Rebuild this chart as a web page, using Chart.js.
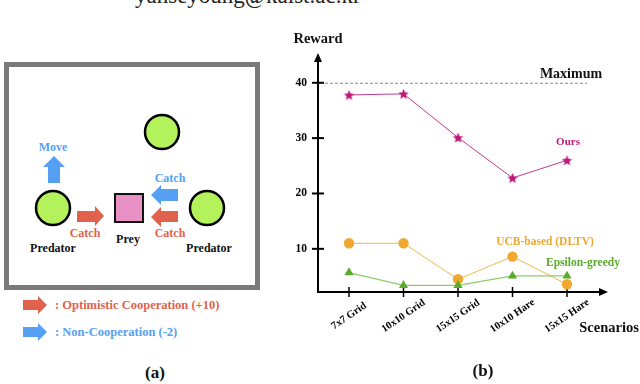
<!DOCTYPE html>
<html><head><meta charset="utf-8">
<script src="https://cdn.jsdelivr.net/npm/chart.js@4/dist/chart.umd.min.js"></script>
<style>
html,body{margin:0;padding:0;background:#fff;width:640px;height:384px;overflow:hidden}
#wrap{position:relative;width:640px;height:384px}
svg,canvas{position:absolute;left:0;top:0}
</style></head><body>
<div id="wrap">
<svg width="640" height="384" xmlns="http://www.w3.org/2000/svg" font-family="'Liberation Serif', 'DejaVu Serif', serif">
  <text x="135" y="3" font-size="23" fill="#222">yanseyoung@kaist.ac.kr</text>
  <rect x="6.5" y="64.5" width="251" height="223" fill="#fff" stroke="#7a7a7a" stroke-width="5"/>
  <circle cx="162" cy="132" r="17" fill="#b4f25c" stroke="#000" stroke-width="2.5"/>
  <circle cx="53" cy="208" r="17" fill="#b4f25c" stroke="#000" stroke-width="2.5"/>
  <circle cx="207" cy="208" r="17" fill="#b4f25c" stroke="#000" stroke-width="2.5"/>
  <rect x="115" y="194" width="28" height="28" fill="#e891c4" stroke="#111" stroke-width="2"/>
  <!-- Move arrow (up, blue) -->
  <polygon points="48,183 48,167 43,167 54,156 65,167 60,167 60,183" fill="#56a0f4"/>
  <!-- red right arrow -->
  <polygon points="77,211 95,211 95,206 104,216 95,226 95,222 77,222" fill="#e0624c"/>
  <!-- blue left arrow -->
  <polygon points="178,189 161,189 161,185 151,195 161,205 161,201 178,201" fill="#56a0f4"/>
  <!-- red left arrow -->
  <polygon points="178,211 161,211 161,207 151,217 161,227 161,222 178,222" fill="#e0624c"/>
  <g font-weight="bold" font-size="12" text-anchor="middle" dominant-baseline="central">
    <text x="53" y="147" fill="#56a0f4">Move</text>
    <text x="85" y="233" fill="#e0624c">Catch</text>
    <text x="170" y="178" fill="#56a0f4">Catch</text>
    <text x="170" y="233" fill="#e0624c">Catch</text>
    <text x="53" y="248" fill="#111">Predator</text>
    <text x="209" y="248" fill="#111">Predator</text>
    <text x="128" y="239" fill="#111">Prey</text>
  </g>
  <polygon points="23,300 38,300 38,296 47,305 38,314 38,310 23,310" fill="#e0624c"/>
  <polygon points="23,327 38,327 38,323 47,332 38,341 38,337 23,337" fill="#56a0f4"/>
  <g font-weight="bold" font-size="12.5" dominant-baseline="central">
    <text x="55" y="305" fill="#e0624c">: Optimistic Cooperation (+10)</text>
    <text x="55" y="332" fill="#56a0f4">: Non-Cooperation (-2)</text>
  </g>
  <text x="155" y="372" font-size="17" font-weight="bold" text-anchor="middle" dominant-baseline="central" fill="#111">(a)</text>
</svg>
<canvas id="c" width="640" height="384"></canvas>
</div>
<script>
// ---- data ----
const categories = ['7x7 Grid', '10x10 Grid', '15x15 Grid', '10x10 Hare', '15x15 Hare'];
const oursValues = [37.8, 38.0, 30.1, 22.8, 26.0];
const ucbValues = [11.0, 11.0, 4.5, 8.6, 3.6];
const epsilonValues = [5.7, 3.4, 3.4, 5.1, 5.1];
const yTickValues = [10, 20, 30, 40];
const maximumReward = 40;

const SERIF = "'Liberation Serif', 'DejaVu Serif', serif";
const C_OURS = '#c0187a', C_UCB = '#f0a830', C_EPS = '#5aab2a';

function starImg(color, r) {
  const s = Math.ceil(r * 2 + 2);
  const c = document.createElement('canvas');
  c.width = c.height = s;
  const g = c.getContext('2d');
  g.beginPath();
  for (let i = 0; i < 10; i++) {
    const a = -Math.PI / 2 + i * Math.PI / 5;
    const rr = i % 2 ? r * 0.45 : r;
    g.lineTo(s / 2 + rr * Math.cos(a), s / 2 + 0.6 + rr * Math.sin(a));
  }
  g.closePath();
  g.fillStyle = color;
  g.fill();
  return c;
}

const toPts = arr => arr.map((v, i) => ({ x: i, y: v }));

const decor = {
  id: 'decor',
  beforeDatasetsDraw(chart) {
    const { ctx, chartArea: a, scales: { x, y } } = chart;
    ctx.save();
    // maximum dashed line
    const ym = y.getPixelForValue(maximumReward);
    ctx.strokeStyle = '#888';
    ctx.lineWidth = 1;
    ctx.setLineDash([3, 2]);
    ctx.beginPath();
    ctx.moveTo(a.left + 7, ym + 0.5);
    ctx.lineTo(a.right - 20, ym + 0.5);
    ctx.stroke();
    ctx.setLineDash([]);
    // axes
    ctx.strokeStyle = '#000';
    ctx.fillStyle = '#000';
    ctx.lineWidth = 2;
    ctx.beginPath();
    ctx.moveTo(a.left, a.bottom);
    ctx.lineTo(a.left, a.top + 5);
    ctx.moveTo(a.left - 1, a.bottom);
    ctx.lineTo(a.right - 6, a.bottom);
    ctx.stroke();
    // arrowheads
    ctx.beginPath();
    ctx.moveTo(a.left, a.top - 1);
    ctx.lineTo(a.left - 4, a.top + 8);
    ctx.lineTo(a.left + 4, a.top + 8);
    ctx.closePath();
    ctx.fill();
    ctx.beginPath();
    ctx.moveTo(a.right + 1, a.bottom);
    ctx.lineTo(a.right - 8, a.bottom - 4);
    ctx.lineTo(a.right - 8, a.bottom + 4);
    ctx.closePath();
    ctx.fill();
    // y ticks
    ctx.font = 'bold 11.5px ' + SERIF;
    ctx.textAlign = 'right';
    ctx.textBaseline = 'middle';
    yTickValues.forEach(v => {
      const py = y.getPixelForValue(v);
      ctx.beginPath();
      ctx.moveTo(a.left - 6, py);
      ctx.lineTo(a.left + 6, py);
      ctx.stroke();
      ctx.fillText(String(v), a.left - 11, py);
    });
    // x ticks
    ctx.lineWidth = 1.5;
    ctx.font = 'bold 10.5px ' + SERIF;
    ctx.textAlign = 'center';
    categories.forEach((lab, i) => {
      const px = x.getPixelForValue(i);
      ctx.beginPath();
      ctx.moveTo(px, a.bottom - 5);
      ctx.lineTo(px, a.bottom + 5);
      ctx.stroke();
      ctx.save();
      ctx.translate(px, a.bottom + 24);
      ctx.rotate(-34.5 * Math.PI / 180);
      ctx.fillText(lab, 0, 0);
      ctx.restore();
    });
    ctx.restore();
  },
  afterDraw(chart) {
    const { ctx } = chart;
    ctx.save();
    ctx.textAlign = 'center';
    ctx.textBaseline = 'middle';
    ctx.fillStyle = '#111';
    ctx.font = 'bold 14.5px ' + SERIF;
    ctx.fillText('Reward', 318, 39);
    ctx.fillText('Scenarios', 609, 328);
    ctx.font = 'bold 14px ' + SERIF;
    ctx.fillText('Maximum', 571, 74);
    ctx.font = 'bold 17px ' + SERIF;
    ctx.fillText('(b)', 483, 372);
    ctx.font = 'bold 11px ' + SERIF;
    ctx.fillStyle = C_OURS;
    ctx.fillText('Ours', 568, 142);
    ctx.font = 'bold 11.5px ' + SERIF;
    ctx.fillStyle = C_UCB;
    ctx.fillText('UCB-based (DLTV)', 545, 242);
    ctx.fillStyle = C_EPS;
    ctx.fillText('Epsilon-greedy', 583, 263);
    ctx.restore();
  }
};

new Chart(document.getElementById('c'), {
  type: 'line',
  data: {
    datasets: [
      { label: 'Epsilon-greedy', data: toPts(epsilonValues), borderColor: '#8ccc6a', borderWidth: 1.2,
        pointStyle: 'triangle', pointRadius: 5.3, pointBackgroundColor: C_EPS, pointBorderColor: C_EPS, pointBorderWidth: 0, clip: false },
      { label: 'UCB-based (DLTV)', data: toPts(ucbValues), borderColor: '#f2b84a', borderWidth: 1,
        pointStyle: 'circle', pointRadius: 5.2, pointBackgroundColor: C_UCB, pointBorderColor: C_UCB, pointBorderWidth: 0, clip: false },
      { label: 'Ours', data: toPts(oursValues), borderColor: '#c43a8c', borderWidth: 1,
        pointStyle: starImg(C_OURS, 5.5), pointRadius: 5, clip: false }
    ]
  },
  options: {
    responsive: false,
    animation: false,
    layout: { padding: { left: 318, right: 33, top: 54, bottom: 92 } },
    plugins: { legend: { display: false }, tooltip: { enabled: false } },
    scales: {
      x: { type: 'linear', display: false, min: -0.569, max: 4.734 },
      y: { type: 'linear', display: false, min: 2.2, max: 45.2 }
    }
  },
  plugins: [decor]
});
</script>
</body></html>
